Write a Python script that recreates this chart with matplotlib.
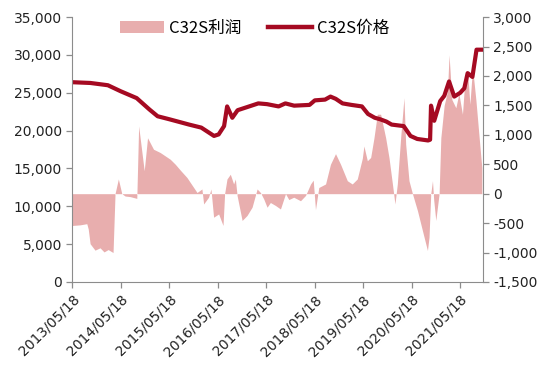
import matplotlib
matplotlib.use('Agg')
import matplotlib.pyplot as plt
import matplotlib.dates as mdates
from matplotlib.patches import Patch
from matplotlib.lines import Line2D
import pandas as pd

plt.rcParams['font.family'] = ['DejaVu Sans', 'Noto Sans CJK SC']

# C32S price (left axis)
price_dates = ['2013-05-18', '2013-10-01', '2014-02-10', '2014-05-18', '2014-09-15',
               '2014-12-20', '2015-02-20', '2015-05-20', '2015-10-15', '2016-01-15',
               '2016-04-20', '2016-05-25', '2016-07-05', '2016-07-28', '2016-09-05',
               '2016-10-15', '2017-01-10', '2017-03-20', '2017-05-25', '2017-08-20',
               '2017-10-10', '2017-12-15', '2018-04-10', '2018-05-20', '2018-08-05',
               '2018-09-15', '2018-10-25', '2018-12-15', '2019-02-20', '2019-05-10',
               '2019-06-25', '2019-08-15', '2019-09-25', '2019-11-10', '2019-12-20',
               '2020-03-20', '2020-05-10', '2020-06-30', '2020-09-20', '2020-10-05',
               '2020-10-12', '2020-11-05', '2020-12-20', '2021-01-20', '2021-02-25',
               '2021-04-05', '2021-05-20', '2021-06-20', '2021-07-15', '2021-08-20',
               '2021-09-20', '2021-10-30']
price = [26400, 26300, 26000, 25200, 24300,
         22800, 21900, 21500, 20800, 20400,
         19300, 19500, 20600, 23200, 21700,
         22700, 23200, 23600, 23500, 23200,
         23600, 23300, 23400, 24000, 24100,
         24500, 24200, 23600, 23400, 23200,
         22200, 21700, 21500, 21200, 20800,
         20600, 19300, 18900, 18700, 18800,
         23300, 21300, 23900, 24600, 26500,
         24500, 25000, 25600, 27600, 27100,
         30700, 30700]

# C32S profit (right axis)
profit_dates = ['2013-05-18', '2013-07-15', '2013-09-04', '2013-09-15', '2013-09-29',
                '2013-11-05', '2013-12-13', '2014-01-12', '2014-02-12', '2014-03-21',
                '2014-04-05', '2014-04-30', '2014-05-26', '2014-06-20', '2014-07-28',
                '2014-09-16', '2014-09-30', '2014-11-11', '2014-12-06', '2015-01-20',
                '2015-03-11', '2015-05-26', '2015-07-03', '2015-08-10', '2015-09-29',
                '2015-12-14', '2016-01-20', '2016-02-02', '2016-03-10', '2016-03-28',
                '2016-04-17', '2016-05-25', '2016-06-27', '2016-07-09', '2016-07-27',
                '2016-08-21', '2016-09-15', '2016-09-28', '2016-10-11', '2016-11-18',
                '2016-12-25', '2017-02-01', '2017-03-11', '2017-04-05', '2017-04-30',
                '2017-05-25', '2017-06-19', '2017-07-27', '2017-09-03', '2017-10-11',
                '2017-11-05', '2017-12-12', '2018-02-01', '2018-03-11', '2018-04-18',
                '2018-05-08', '2018-05-25', '2018-06-19', '2018-08-09', '2018-09-15',
                '2018-10-23', '2018-11-30', '2019-01-20', '2019-02-26', '2019-04-05',
                '2019-05-13', '2019-05-25', '2019-06-20', '2019-07-15', '2019-08-09',
                '2019-09-03', '2019-09-28', '2019-11-05', '2019-11-30', '2019-12-26',
                '2020-01-14', '2020-02-01', '2020-02-26', '2020-03-22', '2020-04-04',
                '2020-04-29', '2020-05-25', '2020-07-02', '2020-08-08', '2020-09-15',
                '2020-09-27', '2020-10-10', '2020-10-23', '2020-11-01', '2020-11-17',
                '2020-12-12', '2020-12-25', '2021-01-19', '2021-02-13', '2021-02-25',
                '2021-03-18', '2021-04-17', '2021-05-10', '2021-06-06', '2021-06-20',
                '2021-07-14', '2021-08-01', '2021-08-21', '2021-09-15', '2021-10-10',
                '2021-10-30']
profit = [-540, -530, -510, -600, -850,
          -960, -920, -990, -950, -1000,
          0, 250, 0, -40, -50,
          -80, 1150, 390, 950, 755,
          700, 585, 500, 400, 275,
          20, 80, -175, -60, 80,
          -400, -345, -540, 0, 250,
          330, 165, 250, -30, -455,
          -370, -230, 80, 20, -90,
          -230, -150, -200, -260, 0,
          -100, -60, -120, -30, 165,
          230, -270, 105, 165, 500,
          680, 500, 220, 165, 250,
          600, 810, 560, 615, 950,
          1350, 1350, 950, 615, 165,
          -175, 165, 950, 1630, 840,
          220, 0, -290, -625, -965,
          -740, 0, 220, -100, -455,
          0, 950, 1500, 1740, 2360,
          1600, 1460, 1700, 1350, 1800,
          2100, 1520, 2140, 1600, 950,
          445]

left_ticks = [0, 5000, 10000, 15000, 20000, 25000, 30000, 35000]
right_ticks = [-1500, -1000, -500, 0, 500, 1000, 1500, 2000, 2500, 3000]
year_ticks = ['2013-05-18', '2014-05-18', '2015-05-18', '2016-05-18', '2017-05-18',
              '2018-05-18', '2019-05-18', '2020-05-18', '2021-05-18']

pdates = pd.to_datetime(price_dates)
fdates = pd.to_datetime(profit_dates)

fig = plt.figure(figsize=(5.5, 3.81), dpi=100)
ax = fig.add_axes([0.1315, 0.26, 0.746, 0.695])
ax2 = ax.twinx()
ax2.set_zorder(ax.get_zorder() - 1)
ax.patch.set_visible(False)

pink = '#E8AEAE'
red = '#A50A22'
ax2.fill_between(fdates, 0, profit, color=pink, linewidth=0)
ax.plot(pdates, price, color=red, linewidth=3.0, solid_joinstyle='round')

ax.set_ylim(0, 35000)
ax2.set_ylim(-1500, 3000)
ax.set_xlim(pd.Timestamp('2013-05-18'), pd.Timestamp('2021-11-05'))

ax.set_yticks(left_ticks)
ax.set_yticklabels([f'{v:,}' for v in left_ticks])
ax2.set_yticks(right_ticks)
ax2.set_yticklabels([f'{v:,}' for v in right_ticks])
ax.set_xticks(pd.to_datetime(year_ticks))
ax.xaxis.set_major_formatter(mdates.DateFormatter('%Y/%m/%d'))
for lab in ax.get_xticklabels():
    lab.set_rotation(45)
    lab.set_ha('right')
    lab.set_rotation_mode('anchor')

gray = '#8C8C8C'
for a in (ax, ax2):
    for s in a.spines.values():
        s.set_color(gray)
    a.spines['top'].set_visible(False)
    a.tick_params(colors=gray, labelcolor='#222222', labelsize=10, length=4, width=0.9)
ax.spines['right'].set_visible(False)
ax2.spines['left'].set_visible(False)
ax2.spines['bottom'].set_visible(False)

handles = [Patch(facecolor=pink, edgecolor='none'),
           Line2D([], [], color=red, linewidth=3.2)]
ax.legend(handles, ['C32S利润', 'C32S价格'], loc='center', ncol=2, frameon=False,
          bbox_to_anchor=(0.463, 0.9265), bbox_transform=fig.transFigure,
          prop={'family': ['Noto Sans CJK SC'], 'size': 12},
          handlelength=2.65, handleheight=0.75, columnspacing=1.6, handletextpad=0.3)

fig.savefig('out.png', dpi=100)
